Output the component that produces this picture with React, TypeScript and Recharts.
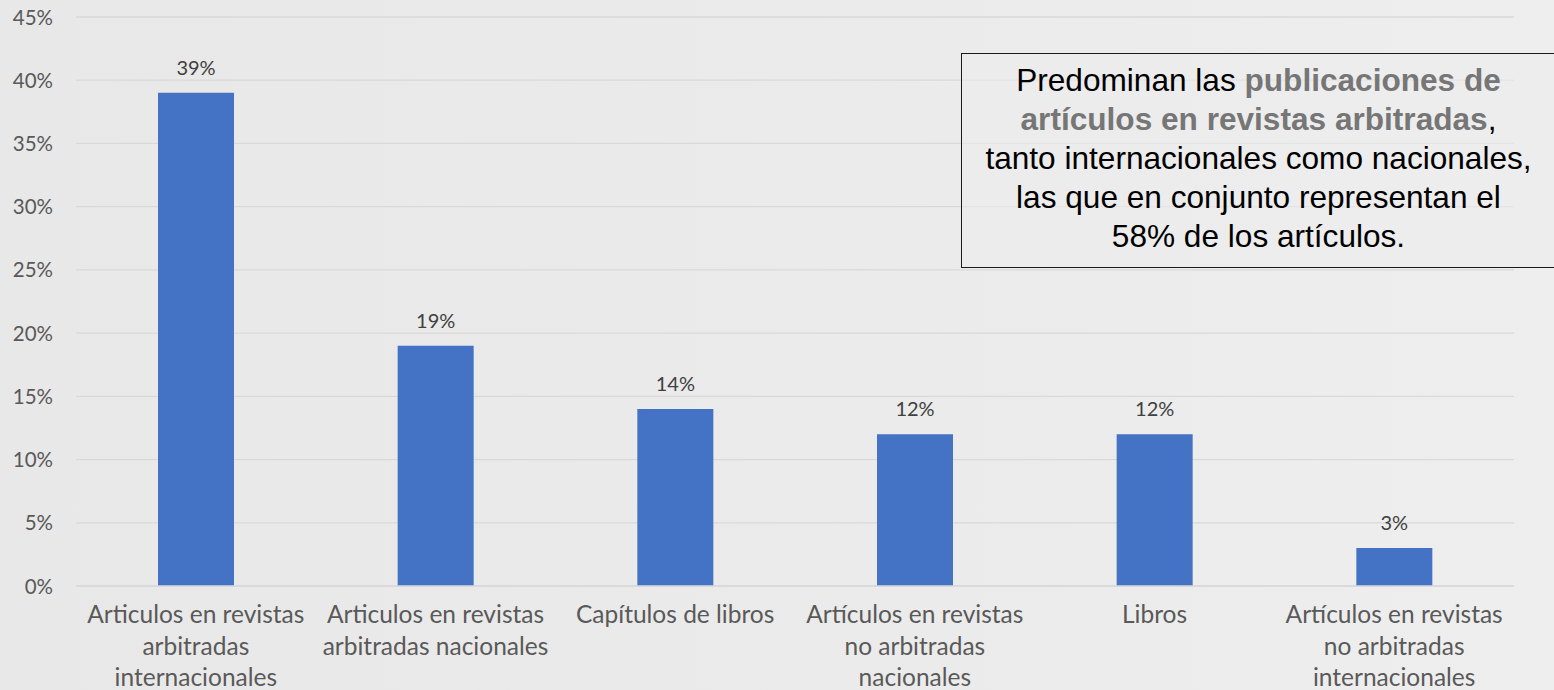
import React from "react";
import { BarChart, Bar, XAxis, YAxis, CartesianGrid, LabelList } from "recharts";

const categories = [
  "Articulos en revistas arbitradas internacionales",
  "Articulos en revistas arbitradas nacionales",
  "Capítulos de libros",
  "Artículos en revistas no arbitradas nacionales",
  "Libros",
  "Artículos en revistas no arbitradas internacionales",
];
const categoryLines = [
  ["Articulos en revistas", "arbitradas", "internacionales"],
  ["Articulos en revistas", "arbitradas nacionales"],
  ["Capítulos de libros"],
  ["Artículos en revistas", "no arbitradas", "nacionales"],
  ["Libros"],
  ["Artículos en revistas", "no arbitradas", "internacionales"],
];
const values = [0.39, 0.19, 0.14, 0.12, 0.12, 0.03];
const yTicks = [0, 0.05, 0.1, 0.15, 0.2, 0.25, 0.3, 0.35, 0.4, 0.45];

const data = categories.map((c, i) => ({ name: c, idx: i, value: values[i] }));

const FONT = "Lato, 'Open Sans', sans-serif";

const XTick = (props: any) => {
  const { x, y, payload } = props;
  const lines = categoryLines[payload.index] || [String(payload.value)];
  return (
    <g transform={`translate(${x},${y})`}>
      {lines.map((l: string, i: number) => (
        <text key={i} x={0} y={29 + i * 31.5} textAnchor="middle" fill="#595959" fontSize={24.5} fontFamily={FONT}>
          {l}
        </text>
      ))}
    </g>
  );
};

const YTick = (props: any) => {
  const { y, payload } = props;
  return (
    <text x={53} y={y + 7.5} textAnchor="end" fill="#595959" fontSize={20.5} fontFamily={FONT}>
      {Math.round(payload.value * 100) + "%"}
    </text>
  );
};

const BarLabel = (props: any) => {
  const { x, y, width, value } = props;
  return (
    <text x={x + width / 2} y={y - 18} textAnchor="middle" fill="#404040" fontSize={20} fontFamily={FONT}>
      {Math.round(value * 100) + "%"}
    </text>
  );
};

export default function App() {
  return (
    <div
      style={{
        position: "absolute",
        left: 0,
        top: 0,
        width: 1554,
        height: 690,
        overflow: "hidden",
        background: "linear-gradient(90deg, #e8e8e8 0%, #ebebeb 60%, #eeeeee 100%)",
      }}
    >
      <BarChart
        width={1554}
        height={690}
        data={data}
        margin={{ top: 17, right: 40, bottom: 0, left: 0 }}
        barCategoryGap={0}
      >
        <CartesianGrid vertical={false} stroke="#d9d9d9" strokeWidth={1.3} />
        <XAxis
          dataKey="name"
          interval={0}
          tick={<XTick />}
          tickLine={false}
          axisLine={{ stroke: "#d9d9d9", strokeWidth: 1.3 }}
          height={104}
        />
        <YAxis
          domain={[0, 0.45]}
          ticks={yTicks}
          tick={<YTick />}
          axisLine={false}
          tickLine={false}
          width={76}
        />
        <Bar dataKey="value" fill="#4472C4" barSize={76} isAnimationActive={false}>
          <LabelList dataKey="value" content={<BarLabel />} />
        </Bar>
      </BarChart>
      <div
        style={{
          position: "absolute",
          left: 961,
          top: 53,
          width: 594,
          height: 215,
          border: "1.5px solid #1a1a1a",
          borderRight: "none",
          background: "rgba(236,236,236,0.55)",
          fontFamily: "'Liberation Sans', Arial, sans-serif",
          fontSize: 31.6,
          lineHeight: "39px",
          color: "#000",
          textAlign: "center",
          paddingTop: 7,
          boxSizing: "border-box",
          whiteSpace: "nowrap",
        }}
      >
        Predominan las <b style={{ color: "#767676" }}>publicaciones de</b>
        <br />
        <b style={{ color: "#767676" }}>artículos en revistas arbitradas</b>,
        <br />
        tanto internacionales como nacionales,
        <br />
        las que en conjunto representan el
        <br />
        58% de los artículos.
      </div>
    </div>
  );
}
